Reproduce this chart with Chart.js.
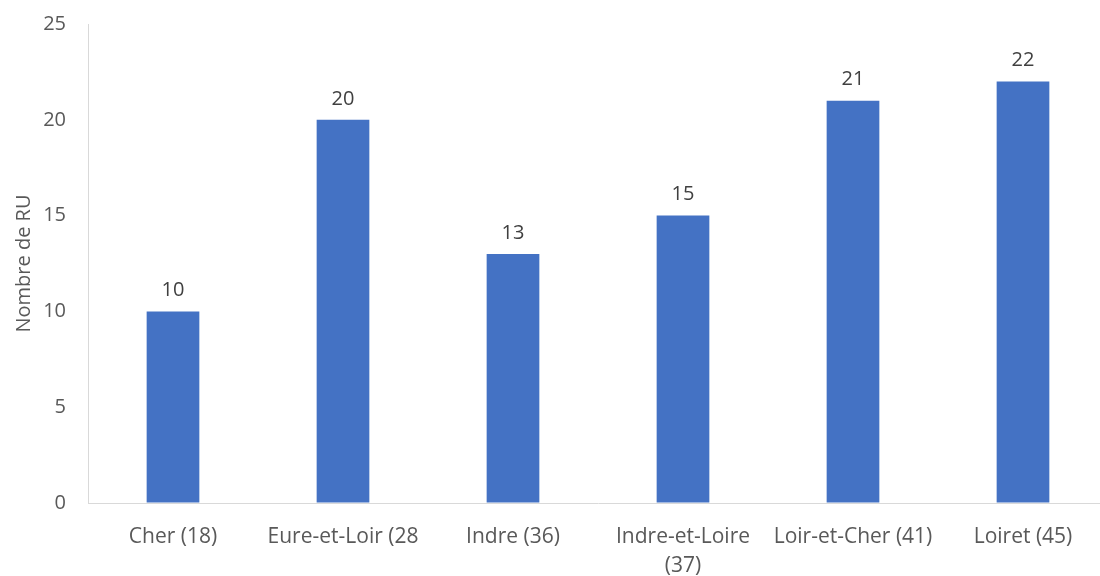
<!DOCTYPE html>
<html>
<head>
<meta charset="utf-8">
<script src="https://cdn.jsdelivr.net/npm/chart.js@4.4.0/dist/chart.umd.min.js"></script>
<style>
  html, body { margin: 0; padding: 0; background: #fff; overflow: hidden; }
  #wrap { width: 1110px; height: 576px; }
</style>
</head>
<body>
<div id="wrap"><canvas id="ruChart"></canvas></div>
<script>
const departements = ['Cher (18)', 'Eure-et-Loir (28', 'Indre (36)', ['Indre-et-Loire', '(37)'], 'Loir-et-Cher (41)', 'Loiret (45)'];
const nombreRU = [10, 20, 13, 15, 21, 22];
const yTicks = [0, 5, 10, 15, 20, 25];

const FONT = "'Open Sans', 'Liberation Sans', sans-serif";

// labels above each bar
const valueLabels = {
    id: 'valueLabels',
    afterDatasetsDraw(chart) {
        const ctx = chart.ctx;
        const meta = chart.getDatasetMeta(0);
        ctx.save();
        ctx.font = '20px ' + FONT;
        ctx.fillStyle = '#404040';
        ctx.textAlign = 'center';
        ctx.textBaseline = 'bottom';
        meta.data.forEach((bar, i) => {
            ctx.fillText(nombreRU[i], bar.x, bar.y - 11);
        });
        ctx.restore();
    }
};

function initChart() {
    const ctx = document.getElementById('ruChart')?.getContext('2d');
    if (!ctx) return;

    new Chart(ctx, {
        type: 'bar',
        data: {
            labels: departements,
            datasets: [{
                data: nombreRU,
                backgroundColor: '#4472C4',
                barPercentage: 0.31,
                categoryPercentage: 1
            }]
        },
        options: {
            responsive: true,
            maintainAspectRatio: false,
            animation: false,
            layout: { padding: { top: 24, right: 2, left: 0, bottom: 0 } },
            plugins: { legend: { display: false }, tooltip: { enabled: false } },
            scales: {
                x: {
                    afterFit: (s) => { s.height = 73; s.paddingLeft = 0; s.paddingRight = 0; },
                    grid: { color: 'transparent', drawTicks: false },
                    border: { color: '#d9d9d9', width: 1 },
                    ticks: { color: '#595959', font: { family: FONT, size: 21, lineHeight: 1.4 }, padding: 19, maxRotation: 0, autoSkip: false }
                },
                y: {
                    min: 0,
                    max: 25,
                    afterBuildTicks: (s) => { s.ticks = yTicks.map(v => ({ value: v })); },
                    afterFit: (s) => { s.width = 88; s.paddingTop = 0; s.paddingBottom = 0; },
                    grid: { color: 'transparent', drawTicks: false },
                    border: { color: '#d9d9d9', width: 1 },
                    ticks: { color: '#595959', font: { family: FONT, size: 20 }, padding: 22 },
                    title: { display: true, text: 'Nombre de RU', color: '#595959', font: { family: FONT, size: 20 }, padding: { top: 12, bottom: 0 } }
                }
            }
        },
        plugins: [valueLabels]
    });
}

document.addEventListener('DOMContentLoaded', () => {
    initChart();
});
</script>
</body>
</html>
